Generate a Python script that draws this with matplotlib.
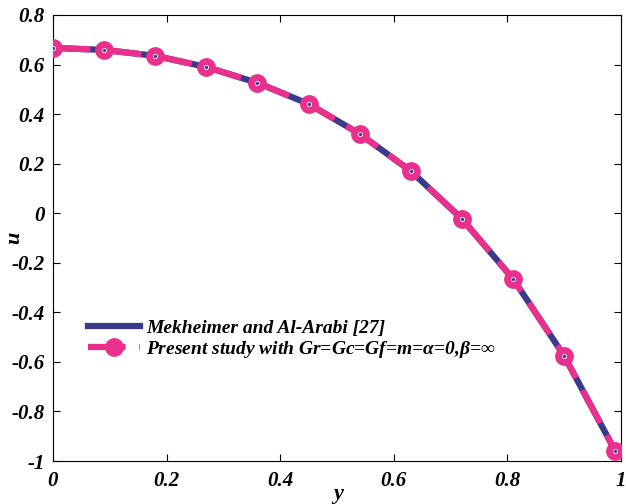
import numpy as np
import matplotlib.pyplot as plt
from matplotlib.lines import Line2D

# data
y_vals = [0.0, 0.09, 0.18, 0.27, 0.36, 0.45, 0.54, 0.63, 0.72, 0.81, 0.90, 0.99]
u_vals = [0.667, 0.659, 0.635, 0.590, 0.526, 0.441, 0.320, 0.170, -0.023, -0.265, -0.576, -0.960]
xticks = [0, 0.2, 0.4, 0.6, 0.8, 1]
yticks = [-1, -0.8, -0.6, -0.4, -0.2, 0, 0.2, 0.4, 0.6, 0.8]

blue = '#3a3a8c'
pink = '#e8308c'

plt.rcParams['font.family'] = ['Liberation Serif', 'DejaVu Serif']
plt.rcParams['mathtext.fontset'] = 'custom'
plt.rcParams['mathtext.it'] = 'Liberation Serif:italic:bold'
plt.rcParams['mathtext.rm'] = 'Liberation Serif:bold'

fig = plt.figure(figsize=(6.26, 5.04), dpi=100)
ax = fig.add_axes([0.0847, 0.0853, 0.9073, 0.885])

ax.plot(y_vals, u_vals, color=blue, lw=4.5, solid_capstyle='butt', zorder=2)
ax.plot(y_vals, u_vals, color=pink, lw=4.5, ls=(0, (6, 2.2)), marker='o',
        ms=12.5, mfc=pink, mec=pink, zorder=3)
ax.plot(y_vals, u_vals, ls='none', marker='o', ms=3, mfc=blue, mec='white',
        mew=0.6, zorder=4)

ax.set_xlim(0, 1)
ax.set_ylim(-1, 0.8)
ax.set_xticks(xticks)
ax.set_yticks(yticks)
ax.set_xticklabels(['%g' % t for t in xticks])
ax.set_yticklabels(['%g' % t for t in yticks])
ax.tick_params(direction='in', top=True, right=True, length=5, width=0.8,
               labelsize=15)
ax.tick_params(axis='y', pad=6)
ax.tick_params(axis='x', pad=7)
for lab in ax.get_xticklabels() + ax.get_yticklabels():
    lab.set_fontweight('bold')
    lab.set_fontstyle('italic')
for sp in ax.spines.values():
    sp.set_linewidth(0.8)

ax.set_xlabel('y', fontsize=16, fontweight='bold', fontstyle='italic')
ax.set_ylabel('u', fontsize=16, fontweight='bold', fontstyle='italic')
ax.xaxis.set_label_coords(0.502, -0.052)
ax.yaxis.set_label_coords(-0.05, 0.5)

h1 = Line2D([], [], color=blue, lw=4.5)
h2 = Line2D([], [], color=pink, lw=4.5, ls=(0, (6, 2.2)), marker='o', ms=12.5)
leg = ax.legend([h1, h2], ['Mekheimer and Al-Arabi [27]',
                           r'Present study with Gr=Gc=Gf=m=$\alpha$=0,$\beta$=$\infty$'],
                loc='center left', bbox_to_anchor=(0.0475, 0.272), frameon=False,
                handlelength=2.7, handletextpad=0.3, borderaxespad=0,
                labelspacing=0.1,
                prop={'size': 14, 'weight': 'bold', 'style': 'italic'})

fig.savefig('out.png', dpi=100)
